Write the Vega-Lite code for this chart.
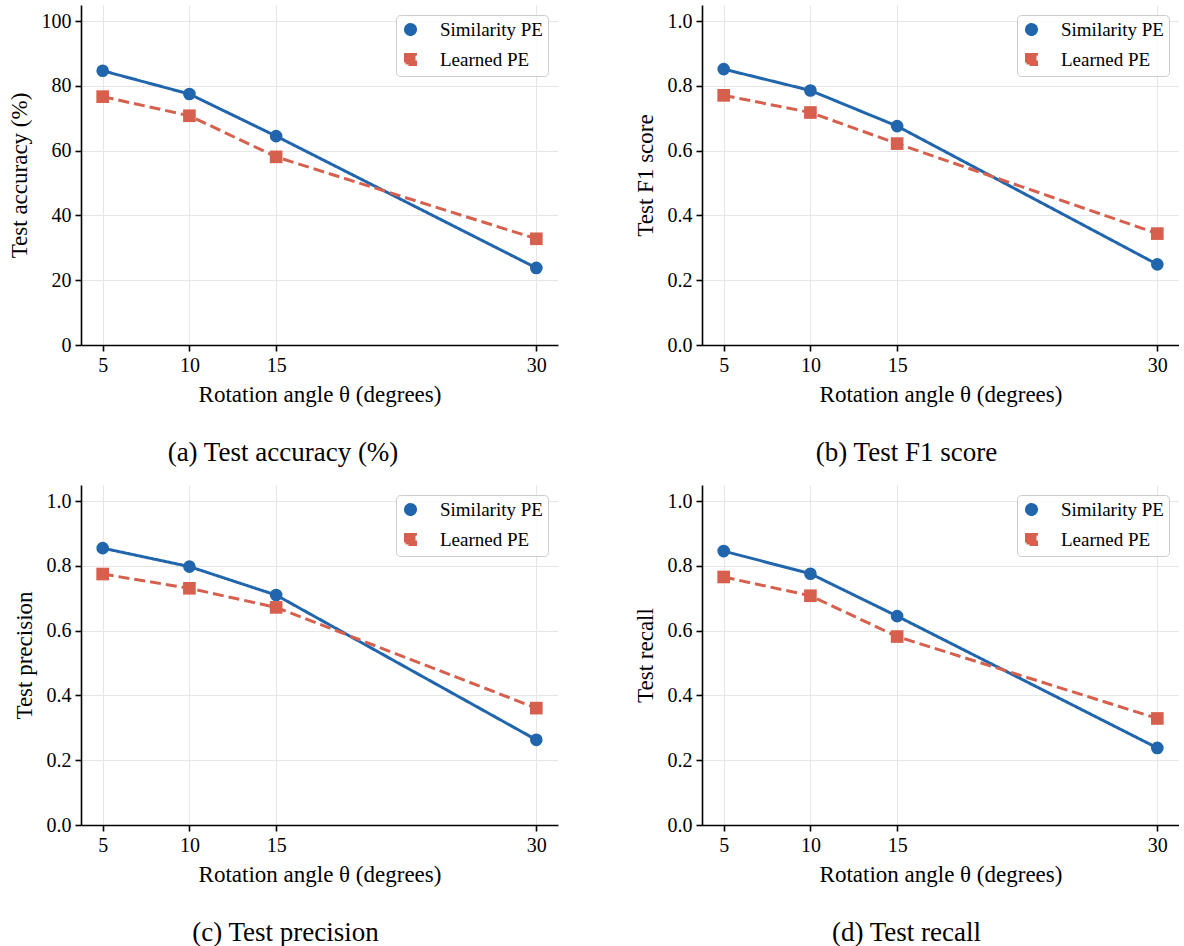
{
  "$schema": "https://vega.github.io/schema/vega-lite/v6.json",
  "padding": {"left": 8, "top": 5, "right": 0, "bottom": 0},
  "background": "white",
  "data": {"values": [
    {"metric": "acc", "angle": 5, "method": "Similarity PE", "value": 84.7},
    {"metric": "acc", "angle": 10, "method": "Similarity PE", "value": 77.5},
    {"metric": "acc", "angle": 15, "method": "Similarity PE", "value": 64.5},
    {"metric": "acc", "angle": 30, "method": "Similarity PE", "value": 23.8},
    {"metric": "acc", "angle": 5, "method": "Learned PE", "value": 76.7},
    {"metric": "acc", "angle": 10, "method": "Learned PE", "value": 70.8},
    {"metric": "acc", "angle": 15, "method": "Learned PE", "value": 58.1},
    {"metric": "acc", "angle": 30, "method": "Learned PE", "value": 32.8},
    {"metric": "f1", "angle": 5, "method": "Similarity PE", "value": 0.852},
    {"metric": "f1", "angle": 10, "method": "Similarity PE", "value": 0.786},
    {"metric": "f1", "angle": 15, "method": "Similarity PE", "value": 0.676},
    {"metric": "f1", "angle": 30, "method": "Similarity PE", "value": 0.249},
    {"metric": "f1", "angle": 5, "method": "Learned PE", "value": 0.771},
    {"metric": "f1", "angle": 10, "method": "Learned PE", "value": 0.718},
    {"metric": "f1", "angle": 15, "method": "Learned PE", "value": 0.622},
    {"metric": "f1", "angle": 30, "method": "Learned PE", "value": 0.344},
    {"metric": "prec", "angle": 5, "method": "Similarity PE", "value": 0.855},
    {"metric": "prec", "angle": 10, "method": "Similarity PE", "value": 0.798},
    {"metric": "prec", "angle": 15, "method": "Similarity PE", "value": 0.710},
    {"metric": "prec", "angle": 30, "method": "Similarity PE", "value": 0.263},
    {"metric": "prec", "angle": 5, "method": "Learned PE", "value": 0.775},
    {"metric": "prec", "angle": 10, "method": "Learned PE", "value": 0.731},
    {"metric": "prec", "angle": 15, "method": "Learned PE", "value": 0.672},
    {"metric": "prec", "angle": 30, "method": "Learned PE", "value": 0.361},
    {"metric": "rec", "angle": 5, "method": "Similarity PE", "value": 0.846},
    {"metric": "rec", "angle": 10, "method": "Similarity PE", "value": 0.776},
    {"metric": "rec", "angle": 15, "method": "Similarity PE", "value": 0.645},
    {"metric": "rec", "angle": 30, "method": "Similarity PE", "value": 0.238},
    {"metric": "rec", "angle": 5, "method": "Learned PE", "value": 0.766},
    {"metric": "rec", "angle": 10, "method": "Learned PE", "value": 0.708},
    {"metric": "rec", "angle": 15, "method": "Learned PE", "value": 0.582},
    {"metric": "rec", "angle": 30, "method": "Learned PE", "value": 0.329}
  ]},
  "config": {
    "view": {"stroke": null},
    "font": "Liberation Serif",
    "axis": {
      "gridColor": "#e6e6e6", "gridWidth": 1,
      "domainColor": "black", "domainWidth": 1.6,
      "tickColor": "black", "tickWidth": 1.6, "tickSize": 6,
      "labelFont": "Liberation Serif", "labelFontSize": 20, "labelColor": "black", "labelPadding": 4,
      "titleFont": "Liberation Serif", "titleFontSize": 23, "titleFontWeight": "normal", "titleColor": "black"
    },
    "title": {"font": "Liberation Serif", "fontSize": 27, "fontWeight": "normal", "color": "black", "orient": "bottom", "anchor": "middle", "frame": "bounds", "offset": 34}
  },
  "columns": 2,
  "bounds": "flush",
  "spacing": {"row": 140, "column": 144},
  "resolve": {"scale": {"color": "independent", "shape": "independent", "strokeDash": "independent"}},
  "concat": [
        {
          "width": 477, "height": 340,
          "title": {"text": "(a) Test accuracy (%)"},
          "transform": [{"filter": "datum.metric === 'acc'"}],
          "encoding": {
            "x": {"field": "angle", "type": "quantitative", "scale": {"domain": [3.75, 31.25], "nice": false, "zero": false}, "axis": {"values": [5, 10, 15, 30], "title": "Rotation angle θ (degrees)", "titlePadding": 8}},
            "y": {"field": "value", "type": "quantitative", "scale": {"domain": [0, 105], "nice": false}, "axis": {"values": [0, 20, 40, 60, 80, 100], "title": "Test accuracy (%)", "titlePadding": 10}},
            "color": {"field": "method", "type": "nominal", "scale": {"domain": ["Similarity PE", "Learned PE"], "range": ["#2166ac", "#d6604d"]},
              "legend": {"title": null, "orient": "top-right", "offset": 10, "padding": 5, "rowPadding": 7, "labelFont": "Liberation Serif", "labelFontSize": 19, "labelColor": "black", "symbolSize": 100, "symbolOffset": 0, "labelOffset": 20, "fillColor": "rgba(255,255,255,0.8)", "strokeColor": "#cccccc", "cornerRadius": 4,
                "encode": {"symbols": {"update": {
                  "shape": {"signal": "datum.value === 'Similarity PE' ? 'M-2,-0.15L2,-0.15L2,0.15L-2,0.15Z M-0.55,0A0.55,0.55 0 1,0 0.55,0A0.55,0.55 0 1,0 -0.55,0Z' : 'M-1.9,0L-0.6,0M0.6,0L1.9,0M-0.55,-0.55L0.55,-0.55L0.55,0.55L-0.55,0.55Z'"},
                  "fill": {"signal": "datum.value === 'Similarity PE' ? '#2166ac' : '#d6604d'"},
                  "stroke": {"signal": "datum.value === 'Similarity PE' ? '#2166ac' : '#d6604d'"},
                  "strokeWidth": {"value": 3}, "strokeDash": {"value": [1, 0]}, "opacity": {"value": 1}, "size": {"value": 100}}}}}}
          },
          "layer": [
            {"mark": {"type": "line", "strokeWidth": 3},
             "encoding": {"strokeDash": {"field": "method", "type": "nominal", "scale": {"domain": ["Similarity PE", "Learned PE"], "range": [[1, 0], [11, 5]]}, "legend": null}}},
            {"mark": {"type": "point", "filled": true, "opacity": 1, "size": 160},
             "encoding": {"shape": {"field": "method", "type": "nominal", "scale": {"domain": ["Similarity PE", "Learned PE"], "range": ["circle", "square"]}, "legend": null}}}
          ]
        },
        {
          "width": 477, "height": 340,
          "title": {"text": "(b) Test F1 score"},
          "transform": [{"filter": "datum.metric === 'f1'"}],
          "encoding": {
            "x": {"field": "angle", "type": "quantitative", "scale": {"domain": [3.75, 31.25], "nice": false, "zero": false}, "axis": {"values": [5, 10, 15, 30], "title": "Rotation angle θ (degrees)", "titlePadding": 8}},
            "y": {"field": "value", "type": "quantitative", "scale": {"domain": [0, 1.05], "nice": false}, "axis": {"values": [0, 0.2, 0.4, 0.6, 0.8, 1.0], "format": ".1f", "title": "Test F1 score", "titlePadding": 10}},
            "color": {"field": "method", "type": "nominal", "scale": {"domain": ["Similarity PE", "Learned PE"], "range": ["#2166ac", "#d6604d"]},
              "legend": {"title": null, "orient": "top-right", "offset": 10, "padding": 5, "rowPadding": 7, "labelFont": "Liberation Serif", "labelFontSize": 19, "labelColor": "black", "symbolSize": 100, "symbolOffset": 0, "labelOffset": 20, "fillColor": "rgba(255,255,255,0.8)", "strokeColor": "#cccccc", "cornerRadius": 4,
                "encode": {"symbols": {"update": {
                  "shape": {"signal": "datum.value === 'Similarity PE' ? 'M-2,-0.15L2,-0.15L2,0.15L-2,0.15Z M-0.55,0A0.55,0.55 0 1,0 0.55,0A0.55,0.55 0 1,0 -0.55,0Z' : 'M-1.9,0L-0.6,0M0.6,0L1.9,0M-0.55,-0.55L0.55,-0.55L0.55,0.55L-0.55,0.55Z'"},
                  "fill": {"signal": "datum.value === 'Similarity PE' ? '#2166ac' : '#d6604d'"},
                  "stroke": {"signal": "datum.value === 'Similarity PE' ? '#2166ac' : '#d6604d'"},
                  "strokeWidth": {"value": 3}, "strokeDash": {"value": [1, 0]}, "opacity": {"value": 1}, "size": {"value": 100}}}}}}
          },
          "layer": [
            {"mark": {"type": "line", "strokeWidth": 3},
             "encoding": {"strokeDash": {"field": "method", "type": "nominal", "scale": {"domain": ["Similarity PE", "Learned PE"], "range": [[1, 0], [11, 5]]}, "legend": null}}},
            {"mark": {"type": "point", "filled": true, "opacity": 1, "size": 160},
             "encoding": {"shape": {"field": "method", "type": "nominal", "scale": {"domain": ["Similarity PE", "Learned PE"], "range": ["circle", "square"]}, "legend": null}}}
          ]
        },
        {
          "width": 477, "height": 340,
          "title": {"text": "(c) Test precision"},
          "transform": [{"filter": "datum.metric === 'prec'"}],
          "encoding": {
            "x": {"field": "angle", "type": "quantitative", "scale": {"domain": [3.75, 31.25], "nice": false, "zero": false}, "axis": {"values": [5, 10, 15, 30], "title": "Rotation angle θ (degrees)", "titlePadding": 8}},
            "y": {"field": "value", "type": "quantitative", "scale": {"domain": [0, 1.05], "nice": false}, "axis": {"values": [0, 0.2, 0.4, 0.6, 0.8, 1.0], "format": ".1f", "title": "Test precision", "titlePadding": 10}},
            "color": {"field": "method", "type": "nominal", "scale": {"domain": ["Similarity PE", "Learned PE"], "range": ["#2166ac", "#d6604d"]},
              "legend": {"title": null, "orient": "top-right", "offset": 10, "padding": 5, "rowPadding": 7, "labelFont": "Liberation Serif", "labelFontSize": 19, "labelColor": "black", "symbolSize": 100, "symbolOffset": 0, "labelOffset": 20, "fillColor": "rgba(255,255,255,0.8)", "strokeColor": "#cccccc", "cornerRadius": 4,
                "encode": {"symbols": {"update": {
                  "shape": {"signal": "datum.value === 'Similarity PE' ? 'M-2,-0.15L2,-0.15L2,0.15L-2,0.15Z M-0.55,0A0.55,0.55 0 1,0 0.55,0A0.55,0.55 0 1,0 -0.55,0Z' : 'M-1.9,0L-0.6,0M0.6,0L1.9,0M-0.55,-0.55L0.55,-0.55L0.55,0.55L-0.55,0.55Z'"},
                  "fill": {"signal": "datum.value === 'Similarity PE' ? '#2166ac' : '#d6604d'"},
                  "stroke": {"signal": "datum.value === 'Similarity PE' ? '#2166ac' : '#d6604d'"},
                  "strokeWidth": {"value": 3}, "strokeDash": {"value": [1, 0]}, "opacity": {"value": 1}, "size": {"value": 100}}}}}}
          },
          "layer": [
            {"mark": {"type": "line", "strokeWidth": 3},
             "encoding": {"strokeDash": {"field": "method", "type": "nominal", "scale": {"domain": ["Similarity PE", "Learned PE"], "range": [[1, 0], [11, 5]]}, "legend": null}}},
            {"mark": {"type": "point", "filled": true, "opacity": 1, "size": 160},
             "encoding": {"shape": {"field": "method", "type": "nominal", "scale": {"domain": ["Similarity PE", "Learned PE"], "range": ["circle", "square"]}, "legend": null}}}
          ]
        },
        {
          "width": 477, "height": 340,
          "title": {"text": "(d) Test recall"},
          "transform": [{"filter": "datum.metric === 'rec'"}],
          "encoding": {
            "x": {"field": "angle", "type": "quantitative", "scale": {"domain": [3.75, 31.25], "nice": false, "zero": false}, "axis": {"values": [5, 10, 15, 30], "title": "Rotation angle θ (degrees)", "titlePadding": 8}},
            "y": {"field": "value", "type": "quantitative", "scale": {"domain": [0, 1.05], "nice": false}, "axis": {"values": [0, 0.2, 0.4, 0.6, 0.8, 1.0], "format": ".1f", "title": "Test recall", "titlePadding": 10}},
            "color": {"field": "method", "type": "nominal", "scale": {"domain": ["Similarity PE", "Learned PE"], "range": ["#2166ac", "#d6604d"]},
              "legend": {"title": null, "orient": "top-right", "offset": 10, "padding": 5, "rowPadding": 7, "labelFont": "Liberation Serif", "labelFontSize": 19, "labelColor": "black", "symbolSize": 100, "symbolOffset": 0, "labelOffset": 20, "fillColor": "rgba(255,255,255,0.8)", "strokeColor": "#cccccc", "cornerRadius": 4,
                "encode": {"symbols": {"update": {
                  "shape": {"signal": "datum.value === 'Similarity PE' ? 'M-2,-0.15L2,-0.15L2,0.15L-2,0.15Z M-0.55,0A0.55,0.55 0 1,0 0.55,0A0.55,0.55 0 1,0 -0.55,0Z' : 'M-1.9,0L-0.6,0M0.6,0L1.9,0M-0.55,-0.55L0.55,-0.55L0.55,0.55L-0.55,0.55Z'"},
                  "fill": {"signal": "datum.value === 'Similarity PE' ? '#2166ac' : '#d6604d'"},
                  "stroke": {"signal": "datum.value === 'Similarity PE' ? '#2166ac' : '#d6604d'"},
                  "strokeWidth": {"value": 3}, "strokeDash": {"value": [1, 0]}, "opacity": {"value": 1}, "size": {"value": 100}}}}}}
          },
          "layer": [
            {"mark": {"type": "line", "strokeWidth": 3},
             "encoding": {"strokeDash": {"field": "method", "type": "nominal", "scale": {"domain": ["Similarity PE", "Learned PE"], "range": [[1, 0], [11, 5]]}, "legend": null}}},
            {"mark": {"type": "point", "filled": true, "opacity": 1, "size": 160},
             "encoding": {"shape": {"field": "method", "type": "nominal", "scale": {"domain": ["Similarity PE", "Learned PE"], "range": ["circle", "square"]}, "legend": null}}}
          ]
        }
  ]
}
